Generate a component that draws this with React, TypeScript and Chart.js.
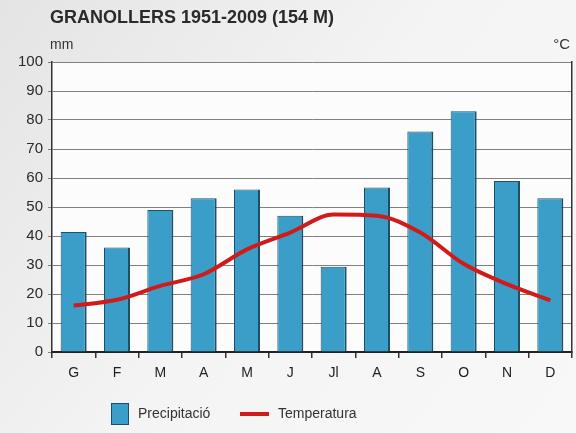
import React, { useEffect, useRef } from "react";
import { Chart, registerables } from "chart.js";

Chart.register(...registerables);

const months = ["G", "F", "M", "A", "M", "J", "Jl", "A", "S", "O", "N", "D"];
const precipitation = [41.4, 36, 49, 53, 56, 47, 29.4, 56.7, 76, 83, 59, 53];
const temperature = [8, 9, 11.4, 13.4, 17.7, 20.6, 23.7, 23.5, 20.6, 15.2, 11.7, 8.9];
const titleText = "GRANOLLERS 1951-2009 (154 M)";
const precipLabel = "Precipitació";
const tempLabel = "Temperatura";

const FONT = "'Liberation Sans', Arial, Helvetica, sans-serif";
const BAR_COLOR = "#3a9ec8";
const BAR_EDGE = "#1f4f68";
const LINE_COLOR = "#d11a1a";

const decorPlugin = {
  id: "decor",
  beforeDraw(chart: any) {
    const { ctx, width, height, chartArea } = chart;
    ctx.save();
    const g = ctx.createLinearGradient(0, 0, width, height);
    g.addColorStop(0, "#e4e4e4");
    g.addColorStop(0.5, "#f4f4f4");
    g.addColorStop(1, "#f8f8f8");
    ctx.fillStyle = g;
    ctx.fillRect(0, 0, width, height);
    ctx.fillStyle = "#fcfcfc";
    ctx.fillRect(chartArea.left, chartArea.top, chartArea.right - chartArea.left, chartArea.bottom - chartArea.top);
    ctx.restore();
  },
  afterDraw(chart: any) {
    const { ctx } = chart;
    ctx.save();
    ctx.textBaseline = "middle";
    ctx.fillStyle = "#2a2a2a";
    ctx.font = `bold 18px ${FONT}`;
    ctx.textAlign = "left";
    ctx.fillText(titleText, 50, 18);
    ctx.font = `14px ${FONT}`;
    ctx.fillStyle = "#333";
    ctx.fillText("mm", 50, 45);
    ctx.textAlign = "right";
    ctx.font = `15px ${FONT}`;
    ctx.fillText("°C", 570, 45);

    // legend
    ctx.fillStyle = BAR_COLOR;
    ctx.fillRect(111, 403, 18, 22);
    ctx.strokeStyle = BAR_EDGE;
    ctx.lineWidth = 1;
    ctx.strokeRect(111.5, 403.5, 17, 21);
    ctx.textAlign = "left";
    ctx.fillStyle = "#333";
    ctx.font = `14px ${FONT}`;
    ctx.fillText(precipLabel, 138, 414);
    ctx.strokeStyle = LINE_COLOR;
    ctx.lineWidth = 4;
    ctx.beginPath();
    ctx.moveTo(240, 414);
    ctx.lineTo(269, 414);
    ctx.stroke();
    ctx.fillText(tempLabel, 278, 414);
    ctx.restore();
  },
};

export default function App() {
  const ref = useRef<HTMLCanvasElement | null>(null);
  useEffect(() => {
    if (!ref.current) return;
    const chart = new Chart(ref.current, {
      type: "bar",
      data: {
        labels: months,
        datasets: [
          {
            type: "line",
            label: tempLabel,
            data: temperature,
            yAxisID: "y1",
            borderColor: LINE_COLOR,
            borderWidth: 4,
            pointRadius: 0,
            cubicInterpolationMode: "monotone",
            fill: false,
            order: 0,
          } as any,
          {
            type: "bar",
            label: precipLabel,
            data: precipitation,
            yAxisID: "y",
            backgroundColor: BAR_COLOR,
            borderColor: BAR_EDGE,
            borderWidth: { left: 1, right: 2, top: 1, bottom: 0 },
            categoryPercentage: 0.6,
            barPercentage: 1,
            order: 1,
          } as any,
        ],
      },
      options: {
        responsive: false,
        animation: false,
        layout: { padding: { top: 62, bottom: 41, left: 0, right: 0 } },
        plugins: {
          legend: { display: false },
          title: { display: false },
          tooltip: { enabled: false },
        },
        scales: {
          x: {
            type: "category",
            offset: true,
            grid: {
              offset: true,
              drawOnChartArea: false,
              tickLength: 6,
              color: "#333",
              lineWidth: 1.5,
            },
            border: { color: "#222", width: 2 },
            ticks: {
              padding: 7,
              color: "#222",
              font: { family: FONT, size: 14 },
            },
            afterFit: (s: any) => {
              s.height = 40;
            },
          },
          y: {
            position: "left",
            min: 0,
            max: 100,
            ticks: {
              stepSize: 10,
              padding: 5,
              color: "#2a2a2a",
              font: { family: FONT, size: 15 },
            },
            grid: { color: "#808080", lineWidth: 1, tickLength: 4 },
            border: { color: "#333", width: 1.5 },
            afterFit: (s: any) => {
              s.width = 52;
            },
          },
          y1: {
            position: "right",
            min: 0,
            max: 50,
            ticks: { display: false, stepSize: 5 },
            grid: { drawOnChartArea: false, drawTicks: false },
            border: { color: "#333", width: 1.5 },
            afterFit: (s: any) => {
              s.width = 4;
            },
          },
        },
      },
      plugins: [decorPlugin],
    });
    return () => chart.destroy();
  }, []);
  return (
    <div style={{ position: "fixed", left: 0, top: 0, width: 576, height: 433 }}>
      <canvas ref={ref} width={576} height={433} style={{ display: "block" }} />
    </div>
  );
}
